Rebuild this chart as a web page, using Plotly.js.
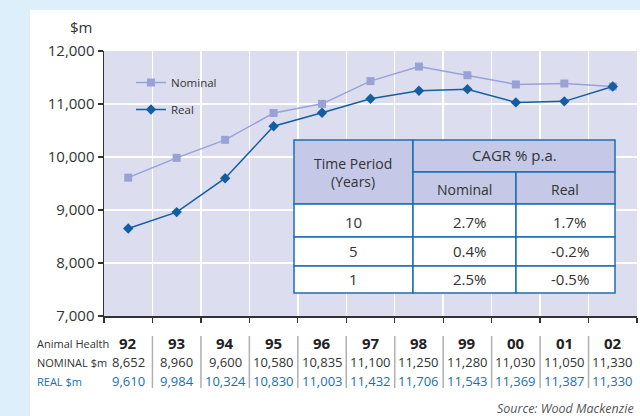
<!DOCTYPE html>
<html>
<head>
<meta charset="utf-8">
<script src="https://cdn.plot.ly/plotly-3.0.1.min.js"></script>
<style>html,body{margin:0;padding:0;background:#fff;}#chart{width:640px;height:416px;}</style>
</head>
<body>
<div id="chart"></div>
<script>
// ---- data ----
var years = ['92','93','94','95','96','97','98','99','00','01','02'];
var nominalRow = [8652, 8960, 9600, 10580, 10835, 11100, 11250, 11280, 11030, 11050, 11330];
var realRow = [9610, 9984, 10324, 10830, 11003, 11432, 11706, 11543, 11369, 11387, 11330];
// as drawn in the reference: upper line labelled "Nominal", lower line labelled "Real"
var upperLineValues = realRow;
var lowerLineValues = nominalRow;
var tablePeriods = ['10', '5', '1'];
var cagrNominal = ['2.7%', '0.4%', '2.5%'];
var cagrReal = ['1.7%', '-0.2%', '-0.5%'];

// ---- layout helpers (pixel -> paper) ----
var L = 104, R = 637, T = 51, B = 316;
function px(x){ return (x - L) / (R - L); }
function py(y){ return (B - y) / (B - T); }
var FONT = 'Open Sans, Noto Sans, sans-serif';
var idx = years.map(function(_, i){ return i; });

var traces = [
  {x: idx, y: upperLineValues, name: 'Nominal', type: 'scatter', mode: 'lines+markers',
   line: {color: '#99a1d6', width: 1.5}, marker: {symbol: 'square', size: 8, color: '#99a1d6'},
   legendgroup: 'a'},
  {x: idx, y: lowerLineValues, name: 'Real', type: 'scatter', mode: 'lines+markers',
   line: {color: '#125e9e', width: 1.5}, marker: {symbol: 'diamond', size: 8, color: '#125e9e'},
   legendgroup: 'b'}
];

var shapes = [];
var ann = [];
// outer light-blue frame
shapes.push({type:'rect', xref:'paper', yref:'paper', x0: px(0), x1: px(30), y0: py(416), y1: py(0), fillcolor:'#ddeffa', line:{width:0}, layer:'below'});
shapes.push({type:'rect', xref:'paper', yref:'paper', x0: px(0), x1: px(640), y0: py(10), y1: py(0), fillcolor:'#ddeffa', line:{width:0}, layer:'below'});

// CAGR table
var tx = [294, 413, 516, 615];
var ty = [140, 172, 204, 237, 266, 293];
var BC = '#1f6db0';
function cell(x0, x1, y0, y1, fill){
  shapes.push({type:'rect', xref:'paper', yref:'paper', x0: px(x0), x1: px(x1), y0: py(y1), y1: py(y0),
    fillcolor: fill, line:{color: BC, width: 1.5}, layer:'above'});
}
cell(tx[0], tx[1], ty[0], ty[2], '#c5c9e7');
cell(tx[1], tx[3], ty[0], ty[1], '#c5c9e7');
cell(tx[1], tx[2], ty[1], ty[2], '#c5c9e7');
cell(tx[2], tx[3], ty[1], ty[2], '#c5c9e7');
for (var r = 0; r < 3; r++) {
  cell(tx[0], tx[1], ty[2+r], ty[3+r], '#ffffff');
  cell(tx[1], tx[2], ty[2+r], ty[3+r], '#ffffff');
  cell(tx[2], tx[3], ty[2+r], ty[3+r], '#ffffff');
}
function txt(x, y, s, size, color, extra){
  var a = {xref:'paper', yref:'paper', x: px(x), y: py(y), text: s, showarrow:false,
    xanchor:'center', yanchor:'middle', font:{family: FONT, size: size, color: color || '#333'}};
  if (extra) for (var k in extra) a[k] = extra[k];
  ann.push(a);
}
txt(353, 172, 'Time Period<br>(Years)', 14, '#333');
txt(514, 155, 'CAGR % p.a.', 15, '#333');
txt(464, 189, 'Nominal', 14, '#333');
txt(565, 189, 'Real', 14, '#333');
var rowY = [222, 251, 279];
for (var i = 0; i < 3; i++) {
  txt(353, rowY[i], tablePeriods[i], 15, '#333');
  txt(470, rowY[i], cagrNominal[i], 15, '#333');
  txt(570, rowY[i], cagrReal[i], 15, '#333');
}

// bottom data table
txt(35, 343, 'Animal Health', 11, '#333', {xanchor:'left'});
txt(35, 362, 'NOMINAL $m', 11, '#333', {xanchor:'left'});
txt(35, 381, 'REAL $m', 11, '#1b6fb5', {xanchor:'left'});
for (var j = 0; j < years.length; j++) {
  ann.push({xref:'x', yref:'paper', x: j, y: py(343), text: '<b>' + years[j] + '</b>', showarrow:false,
    xanchor:'center', yanchor:'middle', font:{family: FONT, size: 15, color:'#222'}});
  ann.push({xref:'x', yref:'paper', x: j, y: py(362), text: nominalRow[j].toLocaleString('en-US'), showarrow:false,
    xanchor:'center', yanchor:'middle', font:{family: FONT, size: 13, color:'#333'}});
  ann.push({xref:'x', yref:'paper', x: j, y: py(381), text: realRow[j].toLocaleString('en-US'), showarrow:false,
    xanchor:'center', yanchor:'middle', font:{family: FONT, size: 13, color:'#1b6fb5'}});
  if (j < years.length - 1) {
    shapes.push({type:'line', xref:'x', yref:'paper', x0: j + 0.5, x1: j + 0.5, y0: py(336), y1: py(388),
      line:{color:'#b0b0b0', width:1.5}});
  }
}
// unit label & source
txt(94, 27, '$m', 15, '#333', {xanchor:'right'});
txt(636, 408, '<i>Source: Wood Mackenzie</i>', 12.5, '#555', {xanchor:'right'});

var layout = {
  width: 640, height: 416,
  margin: {l: L, r: 640 - R, t: T, b: 416 - B, pad: 0},
  paper_bgcolor: '#ffffff', plot_bgcolor: '#dcdef0',
  font: {family: FONT, color: '#333'},
  showlegend: true,
  legend: {x: px(131), y: py(68), xanchor:'left', yanchor:'top', bgcolor:'rgba(0,0,0,0)',
    font:{family: FONT, size: 11.5, color:'#333'}, traceorder:'grouped', tracegroupgap: 8},
  xaxis: {type:'linear', range:[-0.5, 10.5], tick0: -0.5, dtick: 1, showticklabels:false,
    ticks:'outside', ticklen: 5, tickcolor:'#333', tickwidth: 1.2,
    showgrid:true, gridcolor:'#ffffff', gridwidth: 1.5, zeroline:false,
    showline:true, linecolor:'#333', linewidth: 1.5, fixedrange:true},
  yaxis: {range:[7000, 12000], dtick: 1000, tickformat:',d', ticks:'outside', ticklen: 5,
    tickcolor:'#333', tickwidth: 1.2, tickfont:{family: FONT, size: 15, color:'#333'},
    showgrid:true, gridcolor:'#ffffff', gridwidth: 1.5, zeroline:false,
    showline:true, linecolor:'#333', linewidth: 1.5, fixedrange:true},
  shapes: shapes,
  annotations: ann
};
Plotly.newPlot('chart', traces, layout, {displayModeBar:false, staticPlot:true});
</script>
</body>
</html>
